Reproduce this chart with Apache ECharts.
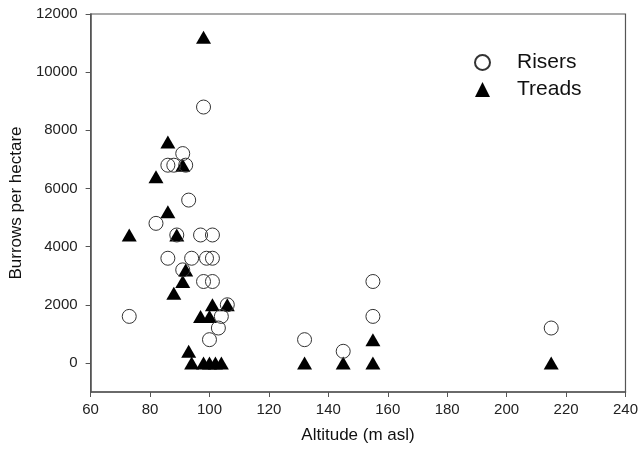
<!DOCTYPE html>
<html>
<head>
<meta charset="utf-8">
<script src="https://cdn.jsdelivr.net/npm/echarts@6/dist/echarts.min.js"></script>
<style>html,body{margin:0;padding:0;background:#fff;}#c{width:641px;height:451px;}</style>
</head>
<body>
<div id="c"></div>
<script>
var risersX = [73, 82, 86, 88, 92, 91, 98, 93, 89, 97, 101, 86, 94, 99, 101, 91, 98, 101, 106, 104, 103, 100, 132, 145, 155, 155, 215];
var risersY = [1600, 4800, 6800, 6800, 6800, 7200, 8800, 5600, 4400, 4400, 4400, 3600, 3600, 3600, 3600, 3200, 2800, 2800, 2000, 1600, 1200, 800, 800, 400, 1600, 2800, 1200];
var treadsX = [73, 82, 86, 86, 91, 98, 89, 92, 91, 88, 101, 106, 97, 100, 93, 94, 98, 100, 102, 104, 132, 145, 155, 155, 215];
var treadsY = [4400, 6400, 7600, 5200, 6800, 11200, 4400, 3200, 2800, 2400, 2000, 2000, 1600, 1600, 400, 0, 0, 0, 0, 0, 0, 0, 800, 0, 0];
var yTickValues = [0, 2000, 4000, 6000, 8000, 10000, 12000];
var seriesNames = ['Risers', 'Treads'];

function pairs(xs, ys) { return xs.map(function (x, i) { return [x, ys[i]]; }); }
function plain(v) { return String(v); }

var chart = echarts.init(document.getElementById('c'), null, { renderer: 'canvas' });
var font = 'Liberation Sans, Arial, sans-serif';
chart.setOption({
  animation: false,
  backgroundColor: '#fff',
  grid: { left: 87.5, right: 15, top: 14, bottom: 59, show: true, borderColor: '#555', borderWidth: 1.2, backgroundColor: 'transparent' },
  legend: {
    orient: 'vertical', left: 469, top: 47, itemWidth: 15, itemHeight: 15, itemGap: 6,
    textStyle: { fontFamily: font, fontSize: 21, color: '#111', padding: [0, 0, 0, 22] },
    data: seriesNames
  },
  xAxis: {
    type: 'value', min: 60, max: 240, interval: 20,
    name: 'Altitude (m asl)', nameLocation: 'middle', nameGap: 35,
    nameTextStyle: { fontFamily: font, fontSize: 17, color: '#111' },
    axisLine: { onZero: false, lineStyle: { color: '#555', width: 1.5 } },
    axisTick: { show: true, length: 5, inside: false, lineStyle: { color: '#555' } },
    axisLabel: { fontFamily: font, fontSize: 15, color: '#222', margin: 10, formatter: plain },
    splitLine: { show: false }
  },
  yAxis: {
    type: 'value', min: -1000, max: 12000,
    name: 'Burrows per hectare', nameLocation: 'middle', nameGap: 55,
    nameTextStyle: { fontFamily: font, fontSize: 17, color: '#111' },
    axisLine: { onZero: false, lineStyle: { color: '#555', width: 1.5 } },
    axisTick: { show: true, length: 5, customValues: yTickValues, lineStyle: { color: '#555' } },
    axisLabel: { fontFamily: font, fontSize: 15, color: '#222', margin: 13, customValues: yTickValues, formatter: plain },
    splitLine: { show: false }
  },
  series: [
    {
      name: seriesNames[1], type: 'scatter', symbol: 'triangle', symbolSize: [15, 13], z: 2,
      itemStyle: { color: '#000', opacity: 1 },
      data: pairs(treadsX, treadsY)
    },
    {
      name: seriesNames[0], type: 'scatter', symbol: 'circle', symbolSize: 14, z: 3,
      itemStyle: { color: 'rgba(255,255,255,0)', borderColor: '#333', borderWidth: 1, opacity: 1 },
      data: pairs(risersX, risersY)
    }
  ]
});
</script>
</body>
</html>
